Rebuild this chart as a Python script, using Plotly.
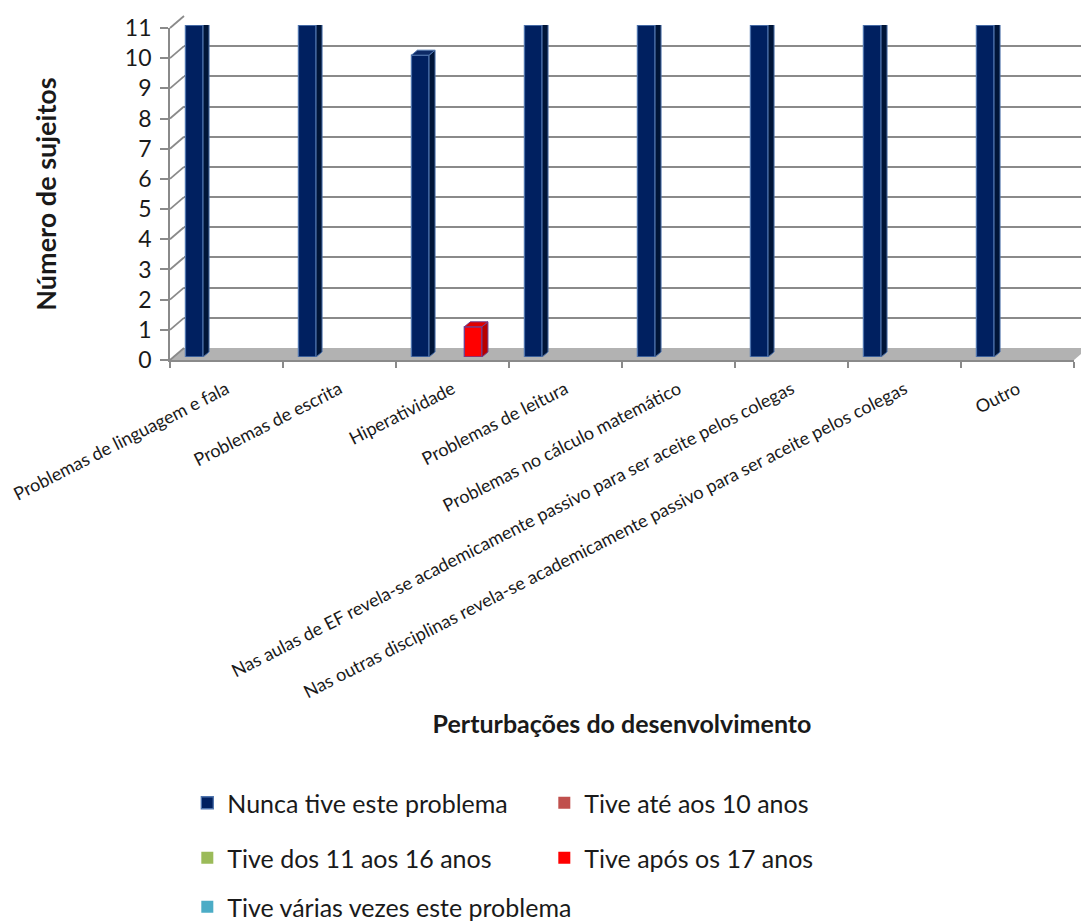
import plotly.graph_objects as go

# ---- data -------------------------------------------------------------
categorias = [
    "Problemas de linguagem e fala",
    "Problemas de escrita",
    "Hiperatividade",
    "Problemas de leitura",
    "Problemas no cálculo matemático",
    "Nas aulas de EF revela-se academicamente passivo para ser aceite pelos colegas",
    "Nas outras disciplinas revela-se academicamente passivo para ser aceite pelos colegas",
    "Outro",
]
nunca_tive = [11, 11, 10, 11, 11, 11, 11, 11]
ate_10_anos = [0, 0, 0, 0, 0, 0, 0, 0]
dos_11_aos_16 = [0, 0, 0, 0, 0, 0, 0, 0]
apos_17_anos = [0, 0, 1, 0, 0, 0, 0, 0]
varias_vezes = [0, 0, 0, 0, 0, 0, 0, 0]

y_ticks = list(range(0, 12))

series = [
    ("Nunca tive este problema", nunca_tive, "#002060", "#4f74ad", "#001538", "#0d2a66", "legend"),
    ("Tive até aos 10 anos", ate_10_anos, "#c0504d", "#8c3836", "#8c3836", "#a84441", "legend"),
    ("Tive dos 11 aos 16 anos", dos_11_aos_16, "#9bbb59", "#71893f", "#71893f", "#86a34b", "legend2"),
    ("Tive após os 17 anos", apos_17_anos, "#ff0000", "#6f3f8f", "#b80000", "#e00000", "legend2"),
    ("Tive várias vezes este problema", varias_vezes, "#4bacc6", "#357d91", "#357d91", "#3f95ac", "legend3"),
]

# ---- geometry of the pseudo-3D frame (pixels) ----------------------------
W, H = 1081, 922
ML, MR, MT, MB = 170, 0, 16, 562
PW, PH = W - ML - MR, H - MT - MB          # plot area 911 x 344
FRONT_W = 904                              # width of the front category axis
DEPTH_X, DEPTH_Y = 14, 12                  # offset of the back wall
BAR_DX, BAR_DY = 3, 3                      # depth position of the bars
YMAX = 11
n_cat = len(categorias)
n_ser = len(series)
bargap = 0.22

grid_col = "#8a8a8a"
text_col = "#1a1a1a"
font_fam = "Lato, 'Open Sans', sans-serif"

fig = go.Figure()

# empty traces so the front axes and the back wall are laid out
fig.add_trace(go.Scatter(x=categorias, y=[None] * n_cat, xaxis="x", yaxis="y",
                         mode="markers", showlegend=False, hoverinfo="skip"))
fig.add_trace(go.Scatter(x=[None], y=[None], xaxis="x2", yaxis="y2",
                         mode="markers", showlegend=False, hoverinfo="skip"))

for name, vals, face, edge, side, top, leg in series:
    fig.add_trace(go.Bar(
        name=name, x=categorias, y=vals,
        xaxis="x3", yaxis="y3",
        marker=dict(color=face,
                    line=dict(color=edge, width=[1.3 if v > 0 else 0 for v in vals])),
        legend=leg, hoverinfo="x+y+name",
    ))

# ---- side and top faces of each bar, derived from the data ---------------
px_per_cat = FRONT_W / n_cat
w = (1 - bargap) / n_ser
dx = 6 / px_per_cat
dy = 5 * YMAX / (PH - DEPTH_Y)
shapes = []
for j, (name, vals, face, edge, side, top, leg) in enumerate(series):
    for i, v in enumerate(vals):
        if v <= 0:
            continue
        c = i + (j - (n_ser - 1) / 2) * w
        xl, xr = c - w / 2, c + w / 2
        shapes.append(dict(
            type="path", xref="x3", yref="y3", layer="above",
            path=f"M{xr},0 L{xr + dx},{dy} L{xr + dx},{v + dy} L{xr},{v} Z",
            fillcolor=side, line=dict(color=edge, width=1),
        ))
        shapes.append(dict(
            type="path", xref="x3", yref="y3", layer="above",
            path=f"M{xl},{v} L{xl + dx},{v + dy} L{xr + dx},{v + dy} L{xr},{v} Z",
            fillcolor=top, line=dict(color=edge, width=1),
        ))

# ---- floor and wall connectors (paper coordinates) -----------------------
fx1 = FRONT_W / PW
bx0 = DEPTH_X / PW
by = DEPTH_Y / PH
y_front_top = (PH - DEPTH_Y) / PH
shapes.append(dict(
    type="path", xref="paper", yref="paper", layer="below",
    path=f"M0,0 L{fx1},0 L1,{by / 2} L1,{by} L{bx0},{by} Z",
    fillcolor="#b2b2b2", line=dict(width=0),
))
for t in y_ticks:
    yf = t / YMAX * y_front_top
    shapes.append(dict(
        type="line", xref="paper", yref="paper", layer="below",
        x0=0, y0=yf, x1=bx0, y1=yf + by,
        line=dict(color=grid_col, width=1.8),
    ))


def legend_row(top_px, entry=None):
    row = dict(orientation="h", x=0.019, y=1 - (top_px - MT) / PH,
               xanchor="left", yanchor="top",
               font=dict(size=25, family=font_fam, color=text_col),
               bgcolor="rgba(0,0,0,0)")
    if entry:
        row.update(entrywidth=entry, entrywidthmode="pixels")
    return row


fig.update_layout(
    width=W, height=H,
    margin=dict(l=ML, r=MR, t=MT, b=MB, autoexpand=False),
    paper_bgcolor="white", plot_bgcolor="rgba(0,0,0,0)",
    font=dict(family=font_fam, color=text_col),
    barmode="group", bargap=bargap, bargroupgap=0,
    shapes=shapes,
    # front axes: ticks and labels
    xaxis=dict(
        domain=[0, fx1], type="category", categoryorder="array",
        categoryarray=categorias, range=[-0.5, n_cat - 0.5],
        tickson="boundaries", ticks="outside", ticklen=6, tickcolor=grid_col,
        tickwidth=1.8, showline=True, linecolor=grid_col, linewidth=1.8,
        showgrid=False, zeroline=False, tickangle=-27, ticklabelstandoff=10,
        tickfont=dict(size=18, family=font_fam, color=text_col),
        title=dict(text="Perturbações do desenvolvimento", standoff=14,
                   font=dict(size=25, weight="bold", family=font_fam, color=text_col)),
        anchor="y", automargin=False,
    ),
    yaxis=dict(
        domain=[0, y_front_top], range=[0, YMAX], tickvals=y_ticks,
        ticks="outside", ticklen=8, tickcolor=grid_col, tickwidth=1.8,
        showline=True, linecolor=grid_col, linewidth=1.8,
        showgrid=False, zeroline=False, ticklabelstandoff=4,
        tickfont=dict(size=23, family=font_fam, color=text_col),
        title=dict(text="Número de sujeitos", standoff=60,
                   font=dict(size=27, weight="bold", family=font_fam, color=text_col)),
        anchor="x", automargin=False,
    ),
    # back wall: gridlines
    xaxis2=dict(domain=[bx0, 1], range=[0, 1], visible=False, anchor="y2",
                showgrid=False, zeroline=False),
    yaxis2=dict(domain=[by, 1], range=[0, YMAX], tickvals=y_ticks,
                showgrid=True, gridcolor=grid_col, gridwidth=1.8,
                showticklabels=False, ticks="", zeroline=False,
                showline=False, anchor="x2"),
    # bars sit slightly behind the front plane
    xaxis3=dict(domain=[BAR_DX / PW, (FRONT_W + BAR_DX) / PW], type="category",
                categoryorder="array", categoryarray=categorias,
                range=[-0.5, n_cat - 0.5], visible=False, anchor="y3"),
    yaxis3=dict(domain=[BAR_DY / PH, (PH - DEPTH_Y + BAR_DY) / PH],
                range=[0, YMAX], visible=False, anchor="x3"),
    legend=legend_row(780, 312),
    legend2=legend_row(835, 312),
    legend3=legend_row(884),
)

fig.write_html("out.html")
